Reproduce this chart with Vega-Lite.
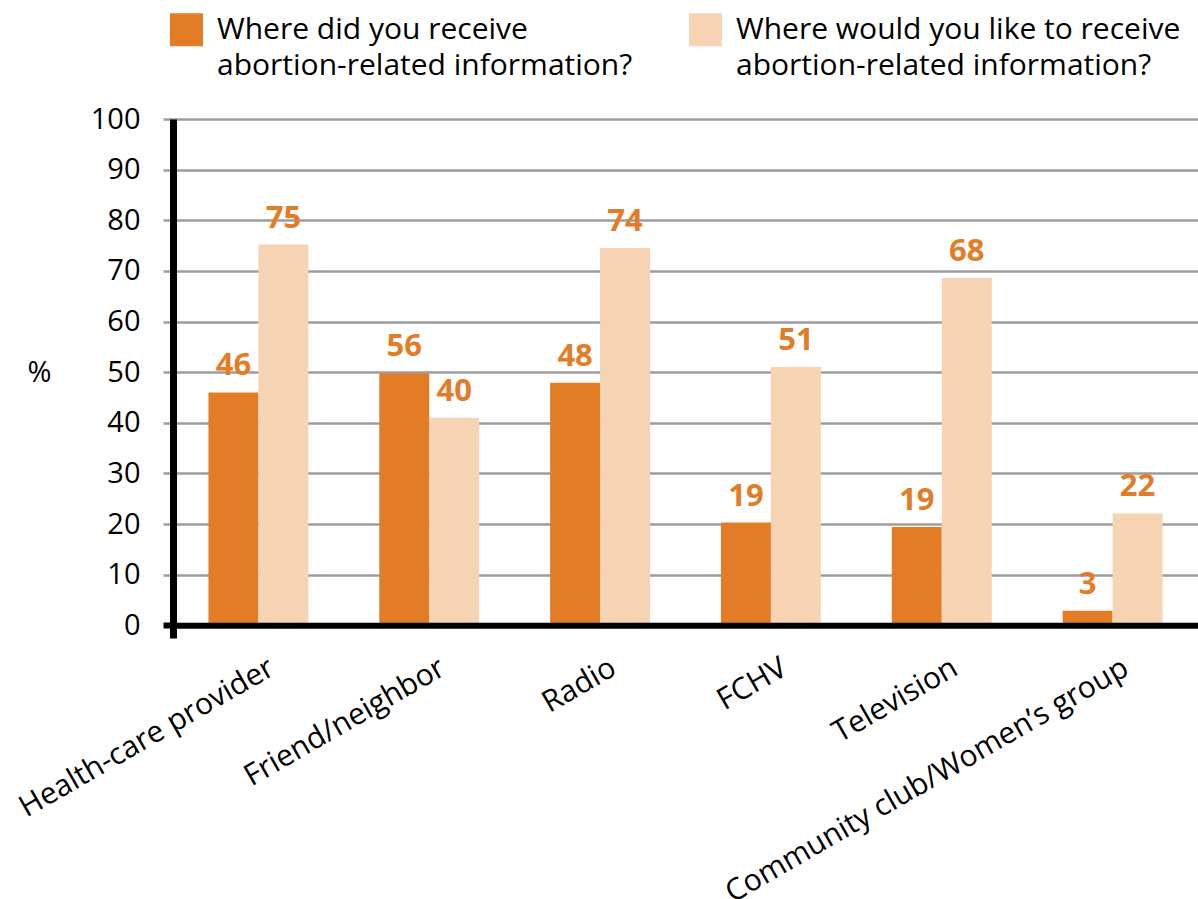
{
  "$schema": "https://vega.github.io/schema/vega-lite/v6.json",
  "width": 1025,
  "height": 519,
  "autosize": {"type": "none"},
  "padding": {"left": 173, "top": 119, "right": 0, "bottom": 261},
  "background": "white",
  "config": {
    "view": {"stroke": null},
    "font": "Open Sans",
    "style": {"guide-label": {"lineHeight": 36}}
  },
  "data": {
    "values": [
      {"source": "Health-care provider", "question": "Where did you receive abortion-related information?", "bar": 46.0, "pct": 46},
      {"source": "Health-care provider", "question": "Where would you like to receive abortion-related information?", "bar": 75.2, "pct": 75},
      {"source": "Friend/neighbor", "question": "Where did you receive abortion-related information?", "bar": 49.8, "pct": 56},
      {"source": "Friend/neighbor", "question": "Where would you like to receive abortion-related information?", "bar": 41.0, "pct": 40},
      {"source": "Radio", "question": "Where did you receive abortion-related information?", "bar": 47.9, "pct": 48},
      {"source": "Radio", "question": "Where would you like to receive abortion-related information?", "bar": 74.5, "pct": 74},
      {"source": "FCHV", "question": "Where did you receive abortion-related information?", "bar": 20.3, "pct": 19},
      {"source": "FCHV", "question": "Where would you like to receive abortion-related information?", "bar": 51.0, "pct": 51},
      {"source": "Television", "question": "Where did you receive abortion-related information?", "bar": 19.4, "pct": 19},
      {"source": "Television", "question": "Where would you like to receive abortion-related information?", "bar": 68.6, "pct": 68},
      {"source": "Community club/Women’s group", "question": "Where did you receive abortion-related information?", "bar": 2.9, "pct": 3},
      {"source": "Community club/Women’s group", "question": "Where would you like to receive abortion-related information?", "bar": 22.1, "pct": 22}
    ]
  },
  "encoding": {
    "x": {
      "field": "source", "type": "nominal", "sort": null,
      "scale": {"paddingInner": 0.415, "paddingOuter": 0.2075},
      "axis": {
        "title": null, "labelAngle": -30, "labelFontSize": 30, "labelColor": "black",
        "ticks": false, "domainColor": "black", "domainWidth": 6, "offset": -12.7,
        "zindex": 1, "labelPadding": 27, "labelOffset": 6, "labelLimit": 0
      }
    },
    "xOffset": {"field": "question", "sort": null},
    "y": {
      "field": "bar", "type": "quantitative",
      "scale": {"domain": [-2.5, 100], "nice": false, "zero": false},
      "axis": {
        "values": [0, 10, 20, 30, 40, 50, 60, 70, 80, 90, 100],
        "title": "%", "titleAngle": 0, "titleX": -134, "titleY": 253,
        "titleAlign": "center", "titleBaseline": "middle",
        "titleFontSize": 29, "titleFontWeight": "normal", "titleColor": "black",
        "labelFontSize": 29, "labelColor": "black", "labelPadding": 23,
        "tickSize": 10,
        "tickColor": {"condition": {"test": "datum.value === 0", "value": "black"}, "value": "#9d9d9f"},
        "tickWidth": {"condition": {"test": "datum.value === 0", "value": 6}, "value": 2.5},
        "grid": true, "gridColor": "#9d9d9f", "gridWidth": 2.5,
        "domainColor": "black", "domainWidth": 7
      }
    }
  },
  "layer": [
    {
      "mark": {"type": "bar"},
      "encoding": {
        "y2": {"datum": 0},
        "color": {
          "field": "question", "type": "nominal", "sort": null,
          "scale": {"range": ["#E37C26", "#F5D3B3"]},
          "legend": {
            "title": null, "orient": "none", "direction": "horizontal",
            "legendX": -3, "legendY": -106,
            "symbolType": "square", "symbolSize": 1089, "symbolStrokeWidth": 0, "symbolOpacity": 1,
            "labelFontSize": 30, "labelColor": "black", "labelLimit": 0, "labelOffset": 14,
            "labelBaseline": "middle", "columnPadding": 56,
            "labelExpr": "[replace(datum.label, ' abortion-related information?', ''), 'abortion-related information?']"
          }
        }
      }
    },
    {
      "mark": {"type": "text", "baseline": "alphabetic", "dy": -17, "fontSize": 31, "fontWeight": "bold", "color": "#E37C26"},
      "encoding": {"text": {"field": "pct", "type": "quantitative"}}
    }
  ]
}
